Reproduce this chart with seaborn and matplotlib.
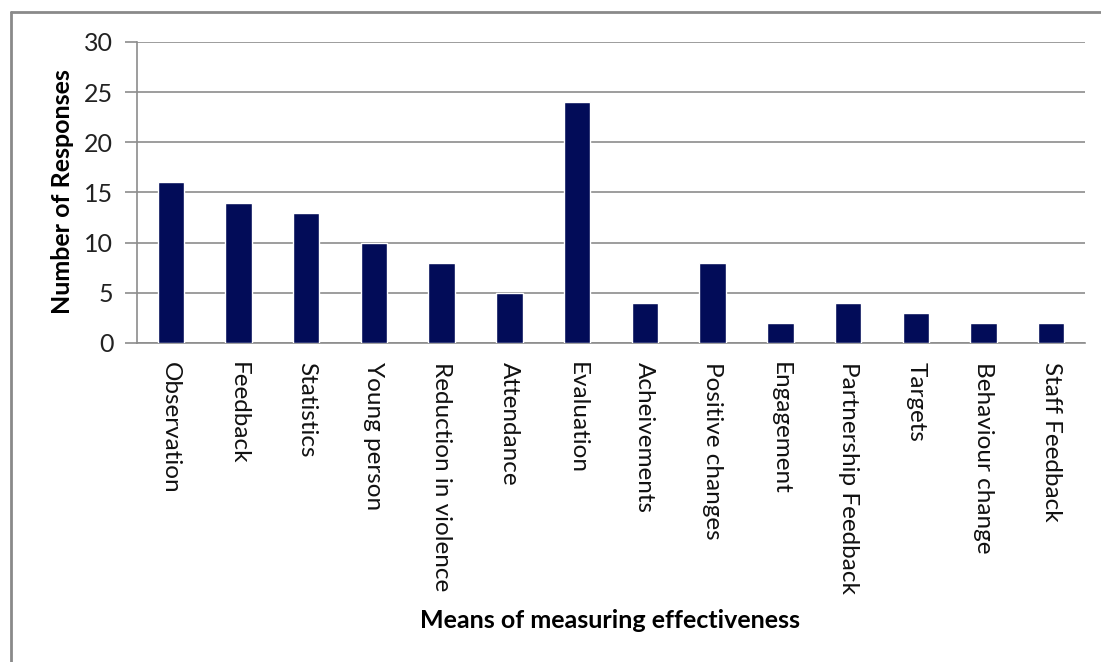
import matplotlib
matplotlib.use("Agg")
import matplotlib.pyplot as plt
from matplotlib.lines import Line2D
import seaborn as sns
import pandas as pd

categories = [
    "Observation", "Feedback", "Statistics", "Young person",
    "Reduction in violence", "Attendance", "Evaluation", "Acheivements",
    "Positive changes", "Engagement", "Partnership Feedback", "Targets",
    "Behaviour change", "Staff Feedback",
]
responses = [16, 14, 13, 10, 8, 5, 24, 4, 8, 2, 4, 3, 2, 2]
y_ticks = [0, 5, 10, 15, 20, 25, 30]

sns.set_theme(style="white")
plt.rcParams["font.family"] = ["Lato", "DejaVu Sans"]

df = pd.DataFrame({"means": categories, "count": responses})

fig = plt.figure(figsize=(11.01, 6.62), dpi=100)
ax = fig.add_axes([0.1244, 0.4819, 0.8611, 0.4547])

sns.barplot(data=df, x="means", y="count", color="#020c58", width=0.39,
            saturation=1, ax=ax, zorder=3)

ax.set_ylim(0, 30)
ax.set_xlim(-0.5, len(categories) - 0.5)
ax.set_yticks(y_ticks)
ax.set_yticklabels([str(v) for v in y_ticks], fontsize=18, color="#222222")
ax.yaxis.grid(True, color="#8c8c8c", linewidth=1.2, zorder=0)
ax.xaxis.grid(False)

for side in ("top", "right"):
    ax.spines[side].set_visible(False)
ax.spines["left"].set_color("#8c8c8c")
ax.spines["bottom"].set_color("#8c8c8c")
ax.spines["left"].set_linewidth(1.2)
ax.spines["bottom"].set_linewidth(1.2)

ax.tick_params(axis="y", which="major", length=9, width=1.2, color="#8c8c8c",
               left=True, pad=8)
ax.tick_params(axis="x", length=0, pad=14)
ax.set_xticks(range(len(categories)))
ax.set_xticklabels(categories, rotation=270, fontsize=17.5, ha="center",
                   va="top", color="#111111")

ax.set_xlabel("Means of measuring effectiveness", fontsize=18,
              fontweight="bold", color="#000000", va="center")
ax.set_ylabel("Number of Responses", fontsize=18, fontweight="bold",
              color="#000000", va="center")
ax.xaxis.set_label_coords(610 / 1101, 1 - 621 / 662, transform=fig.transFigure)
ax.yaxis.set_label_coords(62 / 1101, 1 - 192 / 662, transform=fig.transFigure)

# Frame around the chart (left and top edges visible)
fig.add_artist(Line2D([11 / 1101, 11 / 1101], [0, 1 - 12 / 662],
                      transform=fig.transFigure, color="#8a8a8a", linewidth=2))
fig.add_artist(Line2D([11 / 1101, 1], [1 - 12 / 662, 1 - 12 / 662],
                      transform=fig.transFigure, color="#8a8a8a", linewidth=2))

fig.savefig("out.png", dpi=100, facecolor="white")
